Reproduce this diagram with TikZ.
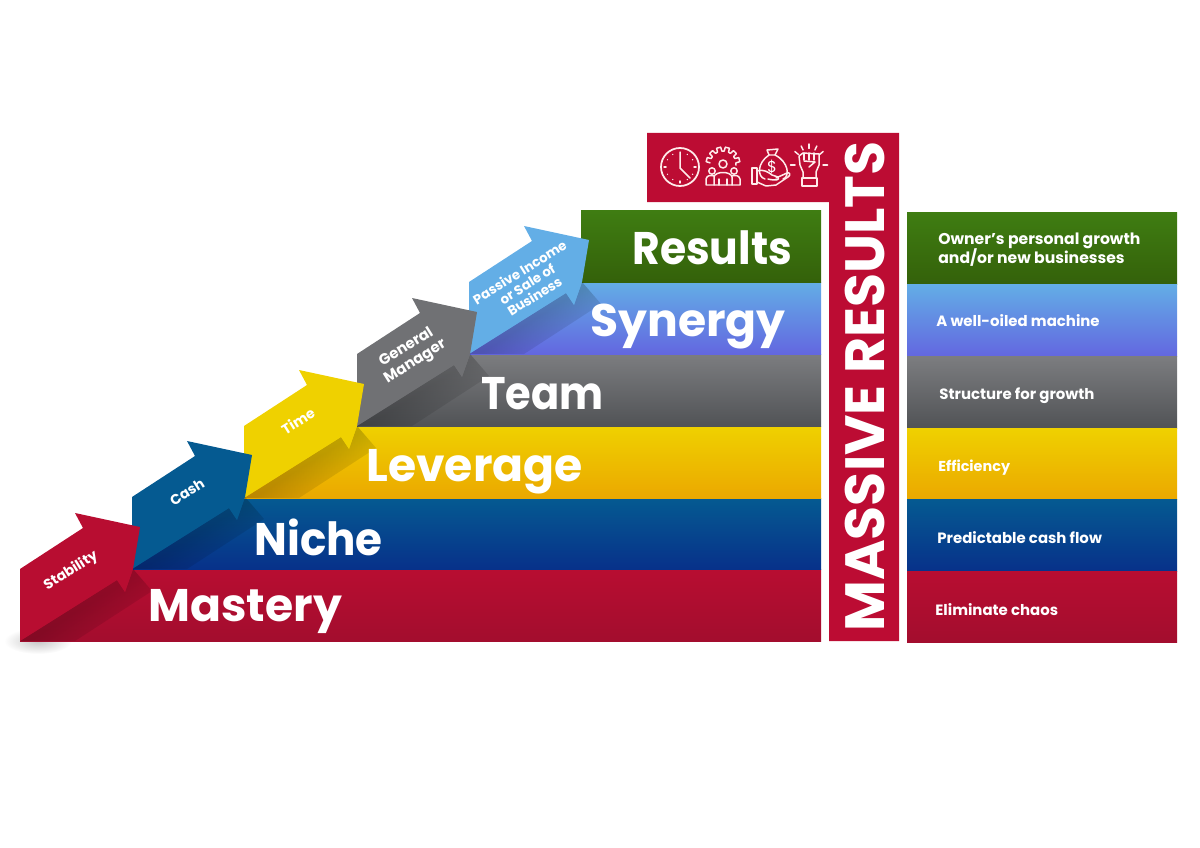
\documentclass[tikz,border=0pt]{standalone}
\usepackage{fontspec}
\setmainfont{Poppins}
\usetikzlibrary{fadings}

\definecolor{redtop}{HTML}{B80D31}
\definecolor{redbot}{HTML}{A30D2E}
\definecolor{bluetop}{HTML}{055A91}
\definecolor{bluebot}{HTML}{07318A}
\definecolor{yellowtop}{HTML}{EFD100}
\definecolor{yellowbot}{HTML}{EBA800}
\definecolor{greytop}{HTML}{7C7D80}
\definecolor{greybot}{HTML}{515356}
\definecolor{greyarrow}{HTML}{707174}
\definecolor{skytop}{HTML}{63AEE6}
\definecolor{skybot}{HTML}{6367E0}
\definecolor{greentop}{HTML}{3F7D12}
\definecolor{greenbot}{HTML}{34610A}
\definecolor{massred}{HTML}{BC0C33}

\pgfdeclarehorizontalshading{shadowgrad}{100bp}{color(0bp)=(pgftransparent!80); color(50bp)=(pgftransparent!80); color(74bp)=(pgftransparent!100); color(100bp)=(pgftransparent!100)}
\pgfdeclarefading{shadowfade}{\pgfuseshading{shadowgrad}}

\begin{document}
\begin{tikzpicture}[x=0.02cm,y=-0.02cm]
% Define common styles
\tikzset{
    redbar/.style={top color=redtop, bottom color=redbot},
    bluebar/.style={top color=bluetop, bottom color=bluebot},
    yellowbar/.style={top color=yellowtop, bottom color=yellowbot},
    greybar/.style={top color=greytop, bottom color=greybot},
    skybar/.style={top color=skytop, bottom color=skybot},
    greenbar/.style={top color=greentop, bottom color=greenbot},
    steplabel/.style={font=\fontsize{26}{30}\selectfont\bfseries, text=white, anchor=base west, inner sep=0pt},
    arrowlabel/.style={font=\fontsize{8}{9}\selectfont\bfseries, text=white, rotate=32, align=center, inner sep=0pt},
    resultlabel/.style={font=\fontsize{8.5}{11}\selectfont\bfseries, text=white, anchor=west, align=left, inner sep=0pt},
    icon/.style={draw=white!92!red, line width=0.85pt, line join=round, line cap=round},
    stairarrow/.pic={
        \fill[black, path fading=shadowfade, fading angle=-41]
            (0,0) -- (97,-61) -- (105,-49) -- (113,-72) -- (132,-50) -- (55,0) -- cycle;
        \fill[pic actions]
            (0,-72) -- (63,-113) -- (55,-128) -- (120,-114) -- (113,-72)
            -- (105,-49) -- (97,-61) -- (0,0) -- cycle;
    }
}
\useasboundingbox (0,0) rectangle (1200,848);

% Soft shadow under the first arrow
\shade[inner color=black!22, outer color=white] (38,641) ellipse (34 and 13);

% Staircase bars (bottom to top)
\shade[redbar] (20,569) rectangle (821,641);
\shade[bluebar] (132,498) rectangle (821,569);
\shade[yellowbar] (244,426) rectangle (821,498);
\shade[greybar] (357,354) rectangle (821,426);
\shade[skybar] (469,282) rectangle (821,354);
\shade[greenbar] (581,210) rectangle (821,282);

% Arrows
\pic[fill=skytop] at (469,354) {stairarrow};
\pic[fill=greyarrow] at (357,426) {stairarrow};
\pic[fill=yellowtop] at (244,498) {stairarrow};
\pic[fill=bluetop] at (132,569) {stairarrow};
\pic[fill=redtop] at (20,641) {stairarrow};

\node[arrowlabel] (stability) at (71,571) {Stability};
\node[arrowlabel] (cash) at (187,492) {Cash};
\node[arrowlabel] (time) at (298,421) {Time};
\node[arrowlabel, font=\fontsize{8.5}{9.6}\selectfont\bfseries] (manager) at (411,355) {General\\Manager};
\node[arrowlabel, font=\fontsize{7.6}{8}\selectfont\bfseries] (passive) at (527,284) {Passive Income\\or Sale of\\Business};

% Step names
\node[steplabel] (mastery) at (148,621) {Mastery};
\node[steplabel, xscale=0.955] (niche) at (254,555) {Niche};
\node[steplabel] (leverage) at (366,481) {Leverage};
\node[steplabel, xscale=0.91] (team) at (481,409) {Team};
\node[steplabel] (synergy) at (590,336) {Synergy};
\node[steplabel, xscale=0.93] (results) at (632,264) {Results};

% Massive results column
\fill[massred] (647,133) -- (899,133) -- (899,641) -- (829,641) -- (829,202) -- (647,202) -- cycle;
\node[font=\fontsize{31.5}{36}\selectfont\bfseries, text=white, rotate=90, inner sep=0pt] (massive) at (865,386.5) {MASSIVE RESULTS};

% Clock icon
\draw[icon, line width=1pt] (680,167) circle (19);
\draw[icon] (680,152) -- (680,168) -- (690,178);
\draw[icon] (680,181) -- (680,183);
\draw[icon] (666,167) -- (664,167);
\draw[icon] (694,167) -- (696,167);
\foreach \a in {30,60,120,150,210,240,300,330}
    \fill[white] (680,167) ++(\a:14.5) circle (0.7);

% Gear and team icon
\begin{scope}[shift={(723,164)}]
\foreach \a in {-165,-135,-105,-75,-45,-15}
    \draw[icon] (\a-10:13) -- (\a-7:17) -- (\a+7:17) -- (\a+10:13) arc (\a+10:\a+20:13);
\draw[icon] (0,0) circle (4);
\draw[icon] (-11,7) circle (3.2);
\draw[icon] (11,7) circle (3.2);
\draw[icon] (-9,21) -- (-9,13) .. controls (-8,7) and (8,7) .. (9,13) -- (9,21) -- cycle;
\draw[icon] (-4,21) -- (-4,15);
\draw[icon] (4,21) -- (4,15);
\draw[icon] (-9,21) -- (-17,21) -- (-17,15) .. controls (-16,11) and (-12,11) .. (-9,12);
\draw[icon] (9,21) -- (17,21) -- (17,15) .. controls (16,11) and (12,11) .. (9,12);
\end{scope}

% Money bag and hand icon
\draw[icon] (767,150) -- (778,149) -- (775,155) -- (769,155) -- cycle;
\draw[icon] (769,155) .. controls (757,163) and (757,177) .. (765,179);
\draw[icon] (775,155) .. controls (789,162) and (790,177) .. (783,179);
\node[text=white, font=\fontsize{9}{9}\selectfont, inner sep=0pt] (dollar) at (772,167) {\$};
\draw[icon] (752,168) -- (757,168) -- (757,184) -- (752,184) -- cycle;
\draw[icon] (757,171) .. controls (764,169) and (768,172) .. (772,175) -- (778,177) .. controls (780,180) and (776,181) .. (768,179);
\draw[icon] (776,178) -- (787,173) .. controls (790,172) and (791,175) .. (788,177) -- (776,185) -- (766,186) -- (757,182);

% Fist icon
\draw[icon] (799,156) -- (800,165) -- (803,172) -- (803,178) -- (816,178) -- (816,172) -- (819,165) -- (819,154) -- (803,153) -- cycle;
\draw[icon] (802,178) -- (817,178) -- (817,186) -- (802,186) -- cycle;
\draw[icon] (804,153) -- (804,160) (809,153) -- (809,160) (814,153) -- (814,160);
\draw[icon] (804,161) -- (815,162) -- (809,167);
\foreach \a in {-180,-140,-115,-90,-65,-40,0}
    \draw[icon] (809,165) ++(\a:14 and 16.5) -- ++(\a:4.5);

% Right column
\shade[greenbar] (907,212) rectangle (1177,284);
\shade[skybar] (907,284) rectangle (1177,356);
\shade[greybar] (907,356) rectangle (1177,428);
\shade[yellowbar] (907,428) rectangle (1177,499);
\shade[bluebar] (907,499) rectangle (1177,571);
\shade[redbar] (907,571) rectangle (1177,642);

\node[resultlabel, font=\fontsize{8.9}{11}\selectfont\bfseries] (owner) at (938,250) {Owner's personal growth\\and/or new businesses};
\node[resultlabel] (machine) at (936,321) {A well-oiled machine};
\node[resultlabel] (structure) at (939,396) {Structure for growth};
\node[resultlabel, font=\fontsize{8.2}{11}\selectfont\bfseries] (efficiency) at (938,468) {Efficiency};
\node[resultlabel] (cashflow) at (937,538) {Predictable cash flow};
\node[resultlabel] (chaos) at (935,610) {Eliminate chaos};

\end{tikzpicture}
\end{document}
